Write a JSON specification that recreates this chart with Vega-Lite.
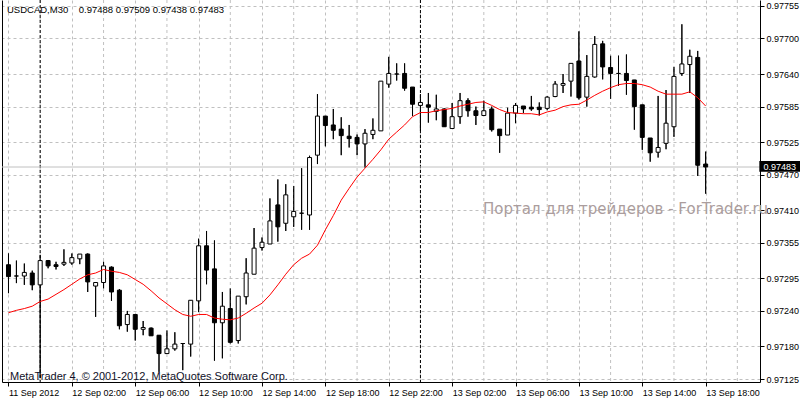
{
  "$schema": "https://vega.github.io/schema/vega-lite/v6.json",
  "width": 758,
  "height": 382,
  "autosize": {"type": "none"},
  "padding": {"left": 2, "top": 0, "right": 40, "bottom": 18},
  "background": "white",
  "title": {
    "text": "USDCAD,M30\u00a0\u00a0\u00a0 0.97488 0.97509 0.97438 0.97483",
    "anchor": "start", "frame": "group", "orient": "top", "offset": -15, "baseline": "top", "dx": 5,
    "font": "Liberation Sans", "fontSize": 9.5, "fontWeight": "normal", "color": "black"
  },
  "datasets": {
    "candles": [
      {"t":"2012-09-11T22:00:00Z","o":0.97318,"h":0.97337,"l":0.97270,"c":0.97298,"ma":0.97237},
      {"t":"2012-09-11T22:30:00Z","o":0.97299,"h":0.97325,"l":0.97287,"c":0.97299,"ma":0.97241},
      {"t":"2012-09-11T23:00:00Z","o":0.97299,"h":0.97320,"l":0.97284,"c":0.97305,"ma":0.97244},
      {"t":"2012-09-11T23:30:00Z","o":0.97304,"h":0.97308,"l":0.97275,"c":0.97284,"ma":0.97248},
      {"t":"2012-09-12T00:00:00Z","o":0.97284,"h":0.97334,"l":0.97127,"c":0.97325,"ma":0.97256},
      {"t":"2012-09-12T00:30:00Z","o":0.97325,"h":0.97326,"l":0.97312,"c":0.97316,"ma":0.97260},
      {"t":"2012-09-12T01:00:00Z","o":0.97318,"h":0.97323,"l":0.97310,"c":0.97315,"ma":0.97268},
      {"t":"2012-09-12T01:30:00Z","o":0.97319,"h":0.97344,"l":0.97316,"c":0.97322,"ma":0.97276},
      {"t":"2012-09-12T02:00:00Z","o":0.97321,"h":0.97337,"l":0.97318,"c":0.97330,"ma":0.97285},
      {"t":"2012-09-12T02:30:00Z","o":0.97328,"h":0.97336,"l":0.97319,"c":0.97336,"ma":0.97294},
      {"t":"2012-09-12T03:00:00Z","o":0.97336,"h":0.97337,"l":0.97272,"c":0.97289,"ma":0.97301},
      {"t":"2012-09-12T03:30:00Z","o":0.97282,"h":0.97288,"l":0.97230,"c":0.97288,"ma":0.97304},
      {"t":"2012-09-12T04:00:00Z","o":0.97288,"h":0.97323,"l":0.97278,"c":0.97316,"ma":0.97310},
      {"t":"2012-09-12T04:30:00Z","o":0.97314,"h":0.97315,"l":0.97257,"c":0.97272,"ma":0.97307},
      {"t":"2012-09-12T05:00:00Z","o":0.97275,"h":0.97277,"l":0.97209,"c":0.97215,"ma":0.97305},
      {"t":"2012-09-12T05:30:00Z","o":0.97217,"h":0.97240,"l":0.97205,"c":0.97234,"ma":0.97301},
      {"t":"2012-09-12T06:00:00Z","o":0.97234,"h":0.97234,"l":0.97190,"c":0.97209,"ma":0.97293},
      {"t":"2012-09-12T06:30:00Z","o":0.97209,"h":0.97223,"l":0.97199,"c":0.97212,"ma":0.97285},
      {"t":"2012-09-12T07:00:00Z","o":0.97211,"h":0.97212,"l":0.97198,"c":0.97198,"ma":0.97274},
      {"t":"2012-09-12T07:30:00Z","o":0.97199,"h":0.97199,"l":0.97137,"c":0.97168,"ma":0.97262},
      {"t":"2012-09-12T08:00:00Z","o":0.97168,"h":0.97207,"l":0.97168,"c":0.97176,"ma":0.97252},
      {"t":"2012-09-12T08:30:00Z","o":0.97176,"h":0.97204,"l":0.97173,"c":0.97184,"ma":0.97242},
      {"t":"2012-09-12T09:00:00Z","o":0.97185,"h":0.97185,"l":0.97140,"c":0.97185,"ma":0.97234},
      {"t":"2012-09-12T09:30:00Z","o":0.97184,"h":0.97258,"l":0.97163,"c":0.97258,"ma":0.97231},
      {"t":"2012-09-12T10:00:00Z","o":0.97257,"h":0.97362,"l":0.97238,"c":0.97350,"ma":0.97234},
      {"t":"2012-09-12T10:30:00Z","o":0.97350,"h":0.97375,"l":0.97285,"c":0.97309,"ma":0.97234},
      {"t":"2012-09-12T11:00:00Z","o":0.97311,"h":0.97359,"l":0.97156,"c":0.97220,"ma":0.97228},
      {"t":"2012-09-12T11:30:00Z","o":0.97220,"h":0.97272,"l":0.97160,"c":0.97248,"ma":0.97226},
      {"t":"2012-09-12T12:00:00Z","o":0.97244,"h":0.97278,"l":0.97185,"c":0.97187,"ma":0.97225},
      {"t":"2012-09-12T12:30:00Z","o":0.97190,"h":0.97265,"l":0.97185,"c":0.97265,"ma":0.97228},
      {"t":"2012-09-12T13:00:00Z","o":0.97264,"h":0.97329,"l":0.97251,"c":0.97304,"ma":0.97236},
      {"t":"2012-09-12T13:30:00Z","o":0.97302,"h":0.97380,"l":0.97302,"c":0.97346,"ma":0.97245},
      {"t":"2012-09-12T14:00:00Z","o":0.97347,"h":0.97364,"l":0.97342,"c":0.97356,"ma":0.97253},
      {"t":"2012-09-12T14:30:00Z","o":0.97353,"h":0.97430,"l":0.97353,"c":0.97392,"ma":0.97267},
      {"t":"2012-09-12T15:00:00Z","o":0.97419,"h":0.97462,"l":0.97357,"c":0.97382,"ma":0.97284},
      {"t":"2012-09-12T15:30:00Z","o":0.97388,"h":0.97454,"l":0.97375,"c":0.97436,"ma":0.97302},
      {"t":"2012-09-12T16:00:00Z","o":0.97399,"h":0.97451,"l":0.97382,"c":0.97408,"ma":0.97318},
      {"t":"2012-09-12T16:30:00Z","o":0.97405,"h":0.97481,"l":0.97377,"c":0.97405,"ma":0.97329},
      {"t":"2012-09-12T17:00:00Z","o":0.97402,"h":0.97502,"l":0.97377,"c":0.97499,"ma":0.97336},
      {"t":"2012-09-12T17:30:00Z","o":0.97503,"h":0.97606,"l":0.97488,"c":0.97569,"ma":0.97351},
      {"t":"2012-09-12T18:00:00Z","o":0.97569,"h":0.97569,"l":0.97518,"c":0.97553,"ma":0.97377},
      {"t":"2012-09-12T18:30:00Z","o":0.97554,"h":0.97581,"l":0.97530,"c":0.97545,"ma":0.97401},
      {"t":"2012-09-12T19:00:00Z","o":0.97547,"h":0.97567,"l":0.97503,"c":0.97536,"ma":0.97427},
      {"t":"2012-09-12T19:30:00Z","o":0.97535,"h":0.97554,"l":0.97516,"c":0.97531,"ma":0.97447},
      {"t":"2012-09-12T20:00:00Z","o":0.97533,"h":0.97538,"l":0.97503,"c":0.97522,"ma":0.97466},
      {"t":"2012-09-12T20:30:00Z","o":0.97522,"h":0.97547,"l":0.97482,"c":0.97540,"ma":0.97481},
      {"t":"2012-09-12T21:00:00Z","o":0.97538,"h":0.97565,"l":0.97530,"c":0.97545,"ma":0.97496},
      {"t":"2012-09-12T21:30:00Z","o":0.97544,"h":0.97628,"l":0.97544,"c":0.97628,"ma":0.97512},
      {"t":"2012-09-12T22:00:00Z","o":0.97623,"h":0.97669,"l":0.97617,"c":0.97641,"ma":0.97530},
      {"t":"2012-09-12T22:30:00Z","o":0.97640,"h":0.97658,"l":0.97629,"c":0.97640,"ma":0.97542},
      {"t":"2012-09-12T23:00:00Z","o":0.97641,"h":0.97658,"l":0.97612,"c":0.97616,"ma":0.97554},
      {"t":"2012-09-12T23:30:00Z","o":0.97618,"h":0.97618,"l":0.97569,"c":0.97589,"ma":0.97568},
      {"t":"2012-09-13T00:00:00Z","o":0.97587,"h":0.97606,"l":0.97544,"c":0.97592,"ma":0.97575},
      {"t":"2012-09-13T00:30:00Z","o":0.97588,"h":0.97608,"l":0.97558,"c":0.97584,"ma":0.97575},
      {"t":"2012-09-13T01:00:00Z","o":0.97577,"h":0.97605,"l":0.97562,"c":0.97581,"ma":0.97578},
      {"t":"2012-09-13T01:30:00Z","o":0.97581,"h":0.97582,"l":0.97551,"c":0.97551,"ma":0.97580},
      {"t":"2012-09-13T02:00:00Z","o":0.97548,"h":0.97591,"l":0.97548,"c":0.97568,"ma":0.97582},
      {"t":"2012-09-13T02:30:00Z","o":0.97568,"h":0.97608,"l":0.97556,"c":0.97595,"ma":0.97586},
      {"t":"2012-09-13T03:00:00Z","o":0.97595,"h":0.97599,"l":0.97568,"c":0.97578,"ma":0.97589},
      {"t":"2012-09-13T03:30:00Z","o":0.97578,"h":0.97585,"l":0.97554,"c":0.97570,"ma":0.97592},
      {"t":"2012-09-13T04:00:00Z","o":0.97570,"h":0.97595,"l":0.97570,"c":0.97578,"ma":0.97593},
      {"t":"2012-09-13T04:30:00Z","o":0.97581,"h":0.97585,"l":0.97543,"c":0.97546,"ma":0.97587},
      {"t":"2012-09-13T05:00:00Z","o":0.97547,"h":0.97547,"l":0.97507,"c":0.97536,"ma":0.97580},
      {"t":"2012-09-13T05:30:00Z","o":0.97537,"h":0.97583,"l":0.97537,"c":0.97574,"ma":0.97575},
      {"t":"2012-09-13T06:00:00Z","o":0.97574,"h":0.97591,"l":0.97557,"c":0.97587,"ma":0.97574},
      {"t":"2012-09-13T06:30:00Z","o":0.97586,"h":0.97586,"l":0.97574,"c":0.97581,"ma":0.97573},
      {"t":"2012-09-13T07:00:00Z","o":0.97584,"h":0.97603,"l":0.97578,"c":0.97581,"ma":0.97573},
      {"t":"2012-09-13T07:30:00Z","o":0.97584,"h":0.97592,"l":0.97570,"c":0.97580,"ma":0.97571},
      {"t":"2012-09-13T08:00:00Z","o":0.97582,"h":0.97603,"l":0.97579,"c":0.97601,"ma":0.97576},
      {"t":"2012-09-13T08:30:00Z","o":0.97602,"h":0.97628,"l":0.97601,"c":0.97623,"ma":0.97579},
      {"t":"2012-09-13T09:00:00Z","o":0.97621,"h":0.97640,"l":0.97608,"c":0.97624,"ma":0.97585},
      {"t":"2012-09-13T09:30:00Z","o":0.97628,"h":0.97658,"l":0.97602,"c":0.97658,"ma":0.97588},
      {"t":"2012-09-13T10:00:00Z","o":0.97662,"h":0.97712,"l":0.97597,"c":0.97600,"ma":0.97589},
      {"t":"2012-09-13T10:30:00Z","o":0.97601,"h":0.97672,"l":0.97585,"c":0.97636,"ma":0.97596},
      {"t":"2012-09-13T11:00:00Z","o":0.97635,"h":0.97704,"l":0.97634,"c":0.97690,"ma":0.97604},
      {"t":"2012-09-13T11:30:00Z","o":0.97691,"h":0.97696,"l":0.97631,"c":0.97652,"ma":0.97611},
      {"t":"2012-09-13T12:00:00Z","o":0.97651,"h":0.97671,"l":0.97598,"c":0.97641,"ma":0.97617},
      {"t":"2012-09-13T12:30:00Z","o":0.97641,"h":0.97671,"l":0.97620,"c":0.97641,"ma":0.97622},
      {"t":"2012-09-13T13:00:00Z","o":0.97641,"h":0.97673,"l":0.97605,"c":0.97629,"ma":0.97624},
      {"t":"2012-09-13T13:30:00Z","o":0.97630,"h":0.97630,"l":0.97546,"c":0.97585,"ma":0.97624},
      {"t":"2012-09-13T14:00:00Z","o":0.97588,"h":0.97588,"l":0.97512,"c":0.97533,"ma":0.97622},
      {"t":"2012-09-13T14:30:00Z","o":0.97532,"h":0.97532,"l":0.97492,"c":0.97507,"ma":0.97618},
      {"t":"2012-09-13T15:00:00Z","o":0.97508,"h":0.97603,"l":0.97499,"c":0.97516,"ma":0.97611},
      {"t":"2012-09-13T15:30:00Z","o":0.97523,"h":0.97613,"l":0.97513,"c":0.97557,"ma":0.97606},
      {"t":"2012-09-13T16:00:00Z","o":0.97551,"h":0.97652,"l":0.97534,"c":0.97636,"ma":0.97606},
      {"t":"2012-09-13T16:30:00Z","o":0.97641,"h":0.97724,"l":0.97637,"c":0.97657,"ma":0.97606},
      {"t":"2012-09-13T17:00:00Z","o":0.97656,"h":0.97681,"l":0.97608,"c":0.97670,"ma":0.97610},
      {"t":"2012-09-13T17:30:00Z","o":0.97668,"h":0.97679,"l":0.97468,"c":0.97486,"ma":0.97600},
      {"t":"2012-09-13T18:00:00Z","o":0.97488,"h":0.97509,"l":0.97438,"c":0.97483,"ma":0.97586}
    ],
    "bid": [{"price": 0.97483}],
    "sep": [{"t": "2012-09-12T00:00:00Z"}, {"t": "2012-09-13T00:00:00Z"}],
    "grid2": [
      {"t": "2012-09-12T00:00:00Z"}, {"t": "2012-09-12T04:00:00Z"}, {"t": "2012-09-12T08:00:00Z"},
      {"t": "2012-09-12T12:00:00Z"}, {"t": "2012-09-12T16:00:00Z"}, {"t": "2012-09-12T20:00:00Z"},
      {"t": "2012-09-13T00:00:00Z"}, {"t": "2012-09-13T04:00:00Z"}, {"t": "2012-09-13T08:00:00Z"},
      {"t": "2012-09-13T12:00:00Z"}, {"t": "2012-09-13T16:00:00Z"}, {"t": "2012-09-13T20:00:00Z"}
    ]
  },
  "layer": [
    {
      "data": {"name": "candles"},
      "mark": {"type": "rule", "color": "black", "strokeWidth": 1, "clip": true},
      "encoding": {
        "x": {"field": "t", "type": "temporal",
              "scale": {"type": "utc", "domain": [1347400462500, 1347570412500]},
              "axis": {
                "title": null, "orient": "bottom",
                "values": [1347400800000, 1347415200000, 1347429600000, 1347444000000, 1347458400000, 1347472800000, 1347487200000, 1347501600000, 1347516000000, 1347530400000, 1347544800000, 1347559200000],
                "labelExpr": "datum.index == 0 ? '11 Sep 2012' : utcFormat(datum.value, '%-d %b %H:%M')",
                "labelAlign": "left", "labelBaseline": "top", "labelPadding": 2, "labelFont": "Liberation Sans", "labelFontSize": 9, "labelColor": "black",
                "labelOverlap": false, "labelBound": false, "labelFlush": false,
                "domain": true, "domainColor": "black", "domainWidth": 1,
                "ticks": true, "tickSize": 4, "tickColor": "black",
                "grid": true, "gridColor": "#c0c0c0", "gridDash": [3, 3], "gridWidth": 1
              }},
        "y": {"field": "l", "type": "quantitative",
              "scale": {"domain": [0.9712, 0.97765], "zero": false, "nice": false},
              "axis": {"orient": "left", "title": null, "labels": false, "ticks": false, "grid": false, "domain": true, "domainColor": "black"}},
        "y2": {"field": "h"}
      }
    },
    {
      "data": {"name": "grid2"},
      "mark": {"type": "rule", "color": "#c0c0c0", "strokeWidth": 1, "strokeDash": [3, 3]},
      "encoding": {
        "x": {"field": "t", "type": "temporal", "axis": null,
              "scale": {"type": "utc", "domain": [1347400462500, 1347570412500]}}
      }
    },
    {
      "data": {"name": "sep"},
      "mark": {"type": "rule", "color": "black", "strokeWidth": 1, "strokeDash": [3, 2]},
      "encoding": {
        "x": {"field": "t", "type": "temporal", "axis": null,
              "scale": {"type": "utc", "domain": [1347400462500, 1347570412500]}}
      }
    },
    {
      "data": {"name": "bid"},
      "mark": {"type": "rule", "color": "#c0c0c0", "strokeWidth": 1},
      "encoding": {
        "y": {"field": "price", "type": "quantitative", "axis": null,
              "scale": {"domain": [0.9712, 0.97765], "zero": false, "nice": false}}
      }
    },
    {
      "data": {"values": [{}]},
      "mark": {"type": "text", "text": "Портал для трейдеров - ForTrader.ru", "font": "DejaVu Sans", "fontSize": 15, "color": "#ab9d9d", "align": "left", "baseline": "alphabetic", "clip": false},
      "encoding": {
        "x": {"datum": 1347508620000, "type": "temporal", "axis": null,
              "scale": {"type": "utc", "domain": [1347400462500, 1347570412500]}},
        "y": {"datum": 0.97403, "type": "quantitative", "axis": null,
              "scale": {"domain": [0.9712, 0.97765], "zero": false, "nice": false}}
      }
    },
    {
      "data": {"name": "candles"},
      "mark": {"type": "rule", "color": "black", "strokeWidth": 1, "clip": true},
      "encoding": {
        "x": {"field": "t", "type": "temporal", "axis": null,
              "scale": {"type": "utc", "domain": [1347400462500, 1347570412500]}},
        "y": {"field": "l", "type": "quantitative", "axis": null,
              "scale": {"domain": [0.9712, 0.97765], "zero": false, "nice": false}},
        "y2": {"field": "h"}
      }
    },
    {
      "data": {"name": "candles"},
      "mark": {"type": "bar", "width": 4, "stroke": "black", "strokeWidth": 1, "clip": true},
      "encoding": {
        "x": {"field": "t", "type": "temporal", "axis": null,
              "scale": {"type": "utc", "domain": [1347400462500, 1347570412500]}},
        "y": {"field": "o", "type": "quantitative",
              "scale": {"domain": [0.9712, 0.97765], "zero": false, "nice": false},
              "axis": {
                "orient": "right", "title": null,
                "values": [0.97755, 0.977, 0.9764, 0.97585, 0.97525, 0.9747, 0.9741, 0.97355, 0.97295, 0.9724, 0.9718, 0.97125],
                "format": ".5f",
                "labelFont": "Liberation Sans", "labelFontSize": 9, "labelColor": "black", "labelPadding": 2,
                "labelBaseline": "middle", "labelOverlap": false, "labelBound": false, "labelFlush": false,
                "domain": true, "domainColor": "black", "ticks": true, "tickSize": 4, "tickColor": "black",
                "grid": true, "gridColor": "#c0c0c0", "gridDash": [3, 3], "gridWidth": 1
              }},
        "y2": {"field": "c"},
        "fill": {"condition": {"test": "datum.c >= datum.o", "value": "white"}, "value": "black"}
      }
    },
    {
      "data": {"name": "candles"},
      "mark": {"type": "line", "color": "#ff0000", "strokeWidth": 1, "clip": true},
      "encoding": {
        "x": {"field": "t", "type": "temporal", "axis": null,
              "scale": {"type": "utc", "domain": [1347400462500, 1347570412500]}},
        "y": {"field": "ma", "type": "quantitative", "axis": null,
              "scale": {"domain": [0.9712, 0.97765], "zero": false, "nice": false}}
      }
    },
    {
      "data": {"values": [{}]},
      "mark": {"type": "rect", "color": "black", "clip": false},
      "encoding": {
        "x": {"datum": 1347571395000, "type": "temporal", "axis": null,
              "scale": {"type": "utc", "domain": [1347400462500, 1347570412500]}},
        "x2": {"datum": 1347580740000},
        "y": {"datum": 0.97493, "type": "quantitative", "axis": null,
              "scale": {"domain": [0.9712, 0.97765], "zero": false, "nice": false}},
        "y2": {"datum": 0.97475}
      }
    },
    {
      "data": {"name": "bid"},
      "mark": {"type": "text", "color": "white", "font": "Liberation Sans", "fontSize": 9, "align": "left", "baseline": "middle", "clip": false},
      "encoding": {
        "text": {"field": "price", "type": "quantitative", "format": ".5f"},
        "x": {"datum": 1347572340000, "type": "temporal", "axis": null,
              "scale": {"type": "utc", "domain": [1347400462500, 1347570412500]}},
        "y": {"field": "price", "type": "quantitative", "axis": null,
              "scale": {"domain": [0.9712, 0.97765], "zero": false, "nice": false}}
      }
    },
    {
      "data": {"values": [{}]},
      "mark": {"type": "text", "text": "MetaTrader 4, © 2001-2012, MetaQuotes Software Corp.", "font": "Liberation Sans", "fontSize": 11, "color": "#101028", "align": "left", "baseline": "alphabetic", "clip": false},
      "encoding": {
        "x": {"datum": 1347401137500, "type": "temporal", "axis": null,
              "scale": {"type": "utc", "domain": [1347400462500, 1347570412500]}},
        "y": {"datum": 0.97124, "type": "quantitative", "axis": null,
              "scale": {"domain": [0.9712, 0.97765], "zero": false, "nice": false}}
      }
    }
  ],
  "resolve": {"axis": {"x": "independent", "y": "independent"}},
  "config": {
    "view": {"stroke": null},
    "axis": {"title": null, "labelFont": "Liberation Sans", "labelFontSize": 9, "labelColor": "black"}
  }
}
